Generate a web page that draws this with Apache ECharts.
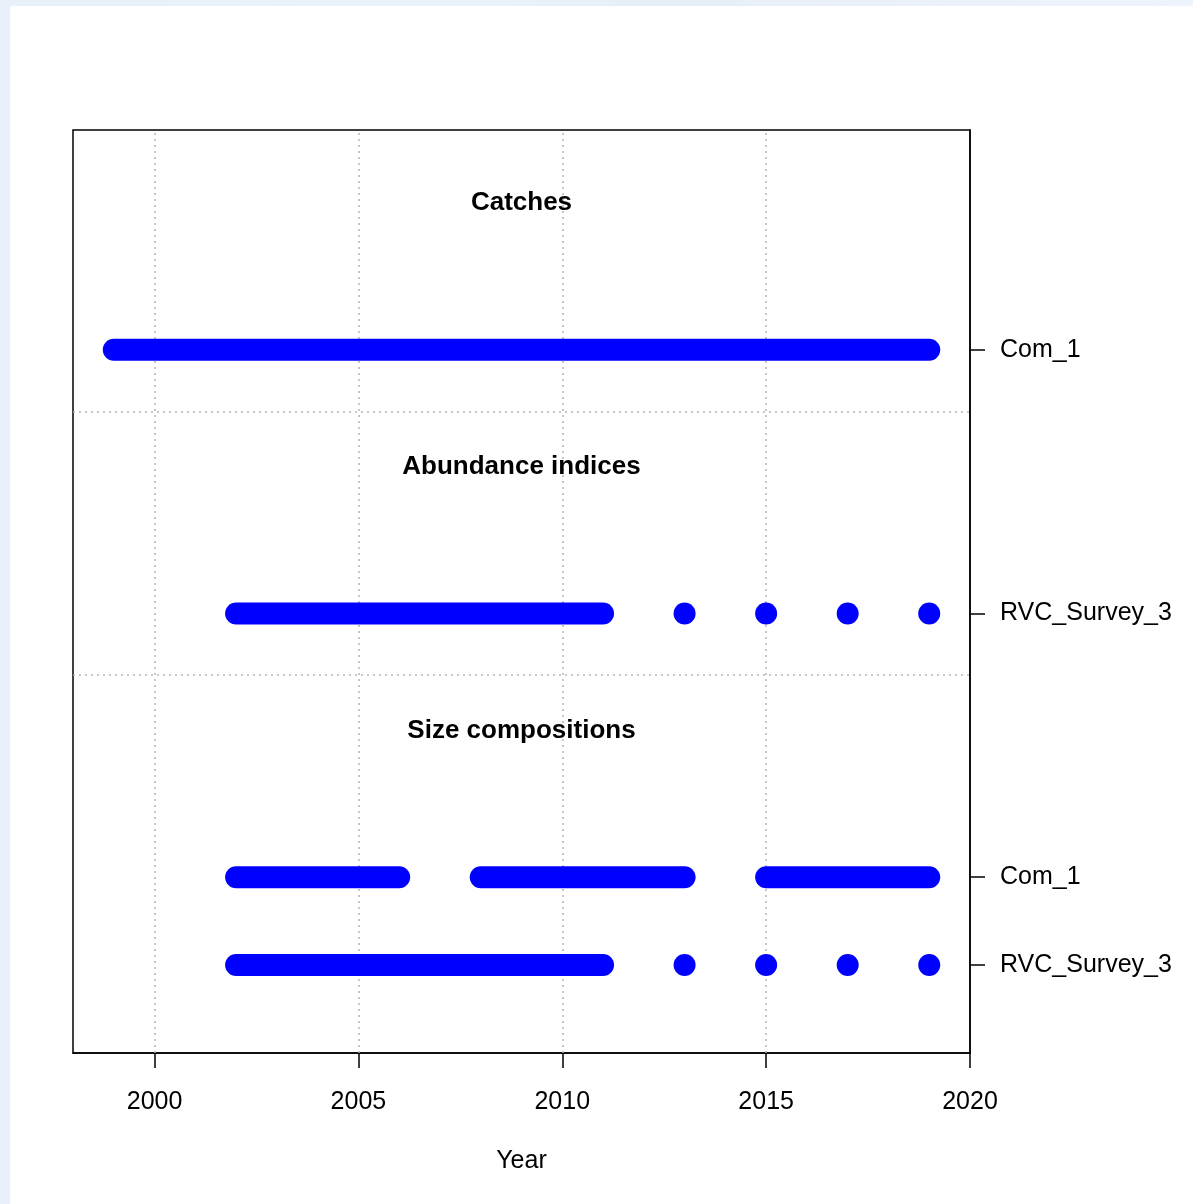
<!DOCTYPE html>
<html>
<head>
<meta charset="utf-8">
<script src="https://cdn.jsdelivr.net/npm/echarts@6/dist/echarts.min.js"></script>
<style>
  html, body { margin: 0; padding: 0; width: 1193px; height: 1204px; overflow: hidden; }
  body { background: linear-gradient(90deg, #e8f0fa 0%, #eaf2fc 40%, #e6eef6 55%, #eef4fc 100%); position: relative; }
  #paper { position: absolute; left: 10px; top: 6px; right: 0; bottom: 0; background: #ffffff; }
  #chart { position: absolute; left: 0; top: 0; width: 1193px; height: 1204px; }
</style>
</head>
<body>
<div id="paper"></div>
<div id="chart"></div>
<script>
// ---- data ----
const xTicks = [2000, 2005, 2010, 2015, 2020];
const rowLabels = ['Com_1', 'RVC_Survey_3', 'Com_1', 'RVC_Survey_3'];
const rowPositions = [8, 5, 2, 1];
const catchCom1 = [1999,2000,2001,2002,2003,2004,2005,2006,2007,2008,2009,2010,2011,2012,2013,2014,2015,2016,2017,2018,2019];
const indexRVC = [2002,2003,2004,2005,2006,2007,2008,2009,2010,2011,2013,2015,2017,2019];
const sizeCom1 = [2002,2003,2004,2005,2006,2008,2009,2010,2011,2012,2013,2015,2016,2017,2018,2019];
const sizeRVC = [2002,2003,2004,2005,2006,2007,2008,2009,2010,2011,2013,2015,2017,2019];
const sectionTitles = ['Catches', 'Abundance indices', 'Size compositions'];
const sectionTitlePositions = [9.7, 6.7, 3.7];
const separatorPositions = [7.3, 4.3];
const gridYears = [2000, 2005, 2010, 2015];

const rows = [catchCom1, indexRVC, sizeCom1, sizeRVC];
const BLUE = '#0000ff';
const FONT = '"Liberation Sans", Arial, sans-serif';

function runs(years) {
  const out = [];
  let cur = [years[0]];
  for (let i = 1; i < years.length; i++) {
    if (years[i] === years[i-1] + 1) cur.push(years[i]);
    else { out.push(cur); cur = [years[i]]; }
  }
  out.push(cur);
  return out;
}

const series = [];

// dotted grid lines and section separators (underneath)
series.push({
  type: 'line', silent: true, animation: false, symbol: 'none', data: [],
  markLine: {
    silent: true, symbol: 'none', animation: false, z: 1,
    label: { show: false },
    lineStyle: { color: '#b5b5b5', type: [2, 4], width: 1.5 },
    data: gridYears.map(v => ({ xAxis: v })).concat(separatorPositions.map(v => ({ yAxis: v })))
  },
  z: 1
});

rows.forEach((yrs, r) => {
  const y = rowPositions[r];
  const singles = [];
  runs(yrs).forEach(run => {
    if (run.length > 1) {
      series.push({
        type: 'line', silent: true, symbol: 'none', animation: false,
        data: run.map(v => [v, y]),
        lineStyle: { color: BLUE, width: 22, cap: 'round', join: 'round', opacity: 1 },
        z: 3
      });
    } else singles.push([run[0], y]);
  });
  if (singles.length) {
    series.push({
      type: 'scatter', silent: true, animation: false,
      symbol: 'circle', symbolSize: 22,
      itemStyle: { color: BLUE, opacity: 1 },
      data: singles, z: 3
    });
  }
});

// section titles
series.push({
  type: 'scatter', silent: true, animation: false, symbolSize: 0,
  itemStyle: { opacity: 1 },
  data: sectionTitles.map((t, i) => ({ value: [2009, sectionTitlePositions[i]], name: t })),
  label: {
    show: true, position: 'inside', offset: [0, 3], formatter: p => p.name,
    fontFamily: FONT, fontWeight: 'bold', fontSize: 26, color: '#000', opacity: 1
  },
  z: 4
});

const chart = echarts.init(document.getElementById('chart'), null, { renderer: 'canvas' });
chart.setOption({
  backgroundColor: 'transparent',
  animation: false,
  grid: { left: 73, right: 223, top: 130, bottom: 151, show: true, borderColor: '#000', borderWidth: 1.5, backgroundColor: 'transparent' },
  xAxis: {
    type: 'value', min: 1998, max: 2020,
    name: 'Year', nameLocation: 'middle', nameGap: 96,
    nameTextStyle: { fontFamily: FONT, fontSize: 25, color: '#000' },
    axisLine: { show: true, onZero: false, lineStyle: { color: '#000', width: 1.5 } },
    axisTick: { show: true, length: 15, inside: false, customValues: xTicks, lineStyle: { color: '#000', width: 1.5 } },
    axisLabel: { show: true, customValues: xTicks, margin: 37, formatter: v => String(v), fontFamily: FONT, fontSize: 25, color: '#000' },
    splitLine: { show: false }
  },
  yAxis: {
    type: 'value', min: 0, max: 10.5, position: 'right',
    axisLine: { show: true, lineStyle: { color: '#000', width: 1.5 } },
    axisTick: { show: true, length: 15, inside: false, customValues: rowPositions, lineStyle: { color: '#000', width: 1.5 } },
    axisLabel: {
      show: true, customValues: rowPositions, margin: 30,
      formatter: v => { const i = rowPositions.indexOf(v); return i >= 0 ? rowLabels[i] : ''; },
      fontFamily: FONT, fontSize: 25, color: '#000'
    },
    splitLine: { show: false }
  },
  series: series
});
</script>
</body>
</html>
